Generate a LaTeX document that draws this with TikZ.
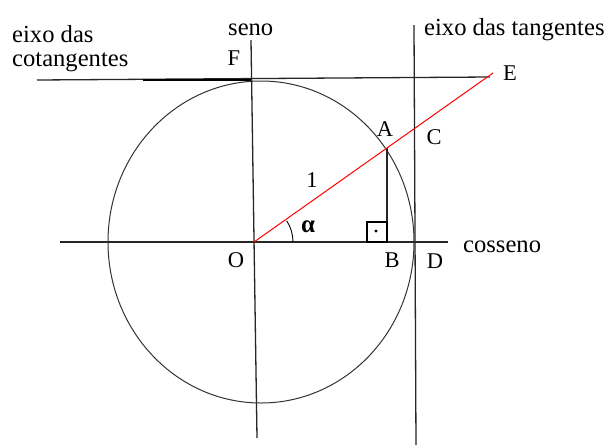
\documentclass[tikz,border=0pt]{standalone}
\usepackage{fontspec}
\setmainfont{Liberation Serif}
\begin{document}
\begin{tikzpicture}[x=1pt,y=-1pt,
  axis/.style={line width=1.3pt, black!85},
  circ/.style={line width=1pt, black!80},
  lbl/.style={inner sep=0pt, font=\fontsize{22.5}{24}\selectfont},
  txt/.style={inner sep=0pt, anchor=base west, font=\fontsize{24.6}{25}\selectfont}]
\useasboundingbox (0,0) rectangle (608,445);
\fill[white] (0,0) rectangle (608,445);
% key points
\coordinate (O) at (254,242);
\coordinate (Ept) at (493,73);
\coordinate (Apt) at (387,148);
\coordinate (Bpt) at (387,242);
\coordinate (Cpt) at (415,128);
% axes
\coordinate (hL) at (60,242);  \coordinate (hR) at (448,242);
\coordinate (sT) at (251,40);  \coordinate (sB) at (257,438);
\coordinate (tT) at (414,25);  \coordinate (tB) at (416,445);
\coordinate (cL) at (37,80);   \coordinate (cR) at (490,77);
\coordinate (k1) at (143,80);  \coordinate (k2) at (251,80);
\draw[axis] (hL) -- (hR);
\draw[axis] (sT) -- (sB);
\draw[axis] (tT) -- (tB);
\draw[axis] (cL) -- (cR);
\draw[line width=2.4pt] (k1) -- (k2);
% circle
\draw[circ] (261,242) ellipse [x radius=153pt, y radius=161pt];
% sine segment and right angle
\draw[axis] (Apt) -- (Bpt);
\draw[line width=1.7pt] (367,222) rectangle (Bpt);
\fill (376,231) circle[radius=1.7pt];
% radius / secant line
\draw[red, line width=1pt] (O) -- (Ept);
% angle arc
\draw[line width=0.9pt] ([shift={(39pt,0pt)}]O) arc[start angle=0, end angle=33, radius=39pt];
% labels
\node[txt] (cot) at (12,42) {eixo das};
\node[txt] (cot2) at (12,66) {cotangentes};
\node[txt] (seno) at (228,35) {seno};
\node[txt] (tg) at (424,35) {eixo das tangentes};
\node[txt] (cos) at (463,252) {cosseno};
\node[lbl] (F) at (234,58) {F};
\node[lbl] (E) at (510,73) {E};
\node[lbl] (A) at (385,129) {A};
\node[lbl] (C) at (434,137) {C};
\node[lbl] (one) at (312,180) {1};
\node[lbl, font=\fontsize{25}{25}\selectfont\bfseries] (alpha) at (308,227) {α};
\node[lbl] (Ol) at (236,260) {O};
\node[lbl] (B) at (392,260) {B};
\node[lbl] (D) at (435,261) {D};
\end{tikzpicture}
\end{document}
